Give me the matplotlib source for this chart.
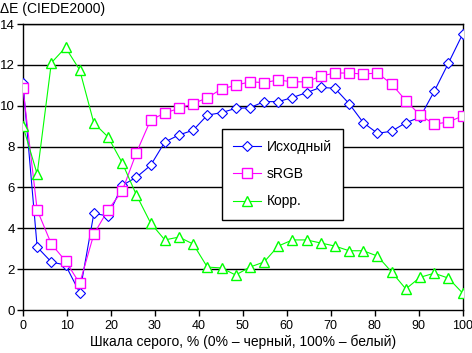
import numpy as np
import matplotlib
matplotlib.use("Agg")
import matplotlib.pyplot as plt

plt.rcParams['font.family'] = ['Liberation Sans', 'DejaVu Sans']

# шкала серого, 32 ступени
gray = np.linspace(0, 100, 32)

ishodny = [11.1, 3.08, 2.35, 2.2, 0.85, 4.73, 4.6, 6.1, 6.5, 7.08,
           8.22, 8.57, 8.8, 9.54, 9.66, 9.87, 9.9, 10.2, 10.2, 10.4,
           10.64, 10.9, 10.85, 10.1, 9.17, 8.65, 8.75, 9.17, 9.43, 10.7,
           12.08, 13.5]
srgb = [10.85, 4.9, 3.23, 2.4, 1.3, 3.72, 4.9, 5.83, 7.7, 9.3,
        9.64, 9.87, 10.1, 10.39, 10.82, 11.0, 11.17, 11.13, 11.26, 11.17,
        11.17, 11.45, 11.6, 11.6, 11.55, 11.6, 11.06, 10.25, 9.54, 9.1,
        9.2, 9.5]
korr = [9.0, 6.65, 12.1, 12.85, 11.75, 9.15, 8.47, 7.2, 5.63, 4.26,
        3.43, 3.57, 3.23, 2.1, 2.06, 1.71, 2.1, 2.35, 3.13, 3.43,
        3.43, 3.28, 3.13, 2.9, 2.9, 2.64, 1.86, 1.03, 1.6, 1.8,
        1.56, 0.83]

fig = plt.figure(figsize=(4.72, 3.53), dpi=100)
ax = fig.add_axes([0.0487, 0.1218, 0.9313, 0.8102])

for y in range(2, 15, 2):
    ax.axhline(y, color='black', lw=1.0, zorder=1)

ax.plot(gray, ishodny, color='#0000ff', lw=0.8, marker='D', ms=5.5,
        mfc='white', mec='#0000ff', mew=0.8, label='Исходный', zorder=3)
ax.plot(gray, srgb, color='#ff00ff', lw=0.8, marker='s', ms=7,
        mfc='white', mec='#ff00ff', mew=1.0, label='sRGB', zorder=3)
ax.plot(gray, korr, color='#00ff00', lw=0.8, marker='^', ms=7.5,
        mfc='white', mec='#00ff00', mew=1.0, label='Корр.', zorder=3)

ax.set_xlim(0, 100)
ax.set_ylim(0, 14)
ax.set_xticks(range(0, 101, 10))
ax.set_yticks(range(0, 15, 2))
ax.tick_params(direction='out', length=4, width=1, labelsize=9.5, pad=2)
ax.tick_params(axis='x', pad=3, labelsize=9)
for s in ax.spines.values():
    s.set_linewidth(1.0)

ax.set_xlabel('Шкала серого, % (0% – черный, 100% – белый)', fontsize=10, labelpad=2)
fig.text(0.0, 0.995, 'ΔE (CIEDE2000)', fontsize=10, ha='left', va='top')

leg = ax.legend(loc='upper left', bbox_to_anchor=(0.453, 0.633), fontsize=10,
                frameon=True, fancybox=False, edgecolor='black',
                handlelength=2.0, labelspacing=0.95, borderpad=0.8,
                handletextpad=0.4, borderaxespad=0)
leg.get_frame().set_linewidth(1.0)
leg.get_frame().set_alpha(1)

fig.savefig('out.png', dpi=100)
